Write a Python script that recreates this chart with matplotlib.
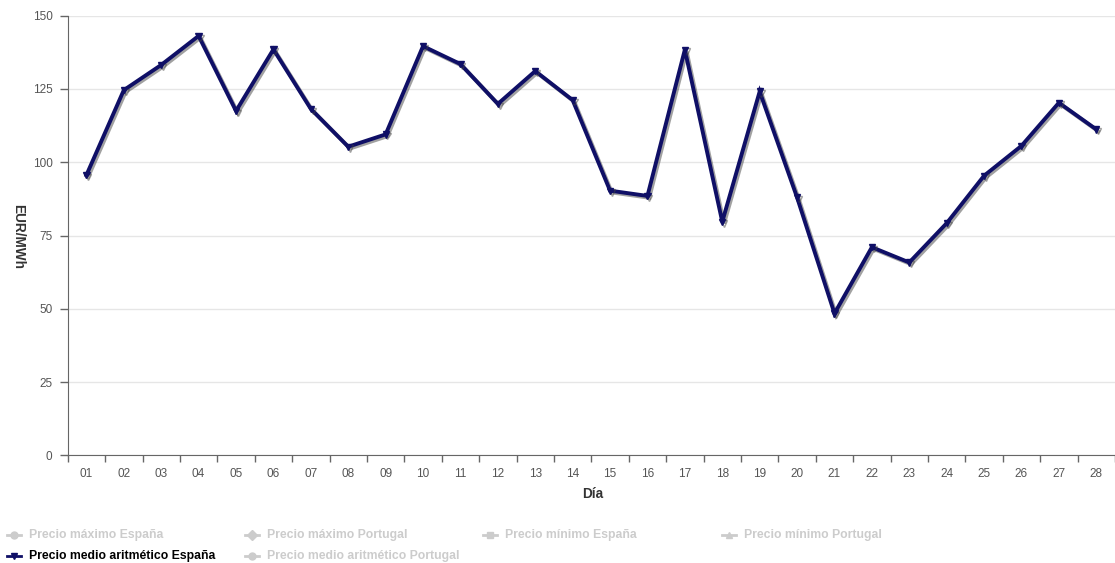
import numpy as np
import matplotlib
matplotlib.use('Agg')
import matplotlib.pyplot as plt
import matplotlib.patheffects as pe
from matplotlib.lines import Line2D

plt.rcParams['font.family'] = ['Liberation Sans', 'DejaVu Sans']

dias = ['%02d' % d for d in range(1, 29)]
precio_medio_es = [95.6, 124.6, 133.2, 143.1, 117.5, 138.5, 118.2, 105.3, 109.5, 139.6,
                   133.5, 119.9, 131.1, 121.2, 90.3, 88.5, 138.4, 79.7, 124.1, 88.0,
                   48.4, 71.0, 65.8, 79.2, 95.4, 105.6, 120.3, 111.2]
y_ticks = [0, 25, 50, 75, 100, 125, 150]

legend_names = ['Precio máximo España', 'Precio máximo Portugal', 'Precio mínimo España',
                'Precio mínimo Portugal', 'Precio medio aritmético España',
                'Precio medio aritmético Portugal']
legend_markers = ['o', 'D', 's', '^', 'v', 'o']
legend_active = [False, False, False, False, True, False]

W, H = 1115, 563
fig = plt.figure(figsize=(W / 100, H / 100), dpi=100)
ax = fig.add_axes([67.7 / W, 1 - 455.3 / H, 1 - 67.7 / W, (455.3 - 15.7) / H])

navy = '#0f0f66'
x = np.arange(len(dias))
ax.plot(x, precio_medio_es, color=navy, lw=2.8, marker='v', markersize=4.5,
        solid_joinstyle='miter',
        path_effects=[pe.SimpleLineShadow(offset=(1.3, -1.3), shadow_color='#444444', alpha=0.5),
                      pe.Normal()], zorder=3, clip_on=False)

ax.set_xlim(-0.5, 27.31)
ax.set_ylim(0, 150)
ax.set_yticks(y_ticks)
ax.set_yticklabels([str(v) for v in y_ticks])
ax.set_xticks(x)
ax.set_xticklabels(dias)
ax.set_xticks(np.arange(-0.5, 28, 1), minor=True)
ax.tick_params(axis='x', which='major', length=0, pad=9, labelsize=8.5, labelcolor='#555555')
ax.tick_params(axis='x', which='minor', length=5, width=1, color='#666666', direction='out')
ax.tick_params(axis='y', length=6, width=1, color='#666666', pad=5, labelsize=8.5,
               labelcolor='#555555')

ax.grid(axis='y', color='#e6e6e6', lw=1)
ax.set_axisbelow(True)
for s in ['top', 'right']:
    ax.spines[s].set_visible(False)
ax.spines['left'].set_color('#666666')
ax.spines['bottom'].set_color('#666666')

fig.text(18 / W, 1 - 236 / H, 'EUR/MWh', rotation=270, ha='center', va='center',
         fontsize=9.8, fontweight='bold', color='#333333')
fig.text(593 / W, 1 - 494 / H, 'Día', ha='center', va='center',
         fontsize=9.8, fontweight='bold', color='#333333')

# leyenda manual, dos filas
col_x = [7, 245, 483, 722]
row_y = [535, 556]
for i, name in enumerate(legend_names):
    cx = col_x[i % 4]
    cy = row_y[i // 4]
    c = navy if legend_active[i] else '#cccccc'
    tc = '#000000' if legend_active[i] else '#cccccc'
    fy = 1 - cy / H
    fig.add_artist(Line2D([cx / W, (cx + 14) / W], [fy, fy], color=c, lw=2,
                          transform=fig.transFigure))
    fig.add_artist(Line2D([(cx + 7) / W], [fy], color=c, marker=legend_markers[i],
                          markersize=5, transform=fig.transFigure))
    fig.text((cx + 22) / W, fy, name, ha='left', va='center', fontsize=8.8,
             fontweight='bold', color=tc)

fig.savefig('out.png', dpi=100)
